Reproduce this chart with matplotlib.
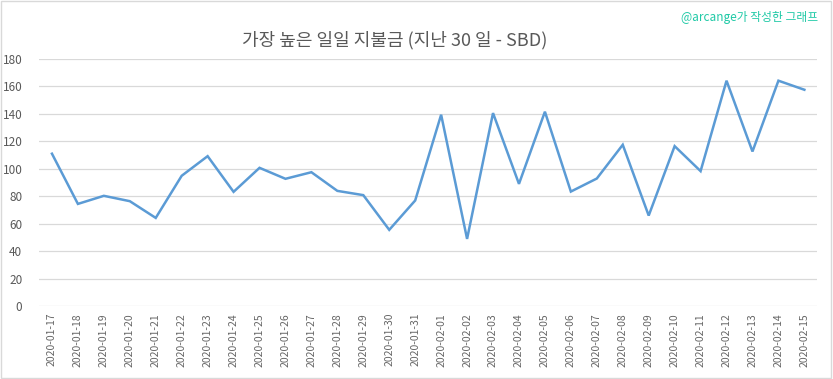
import matplotlib
matplotlib.use("Agg")
import matplotlib.pyplot as plt
from matplotlib.patches import Rectangle

plt.rcParams['font.family'] = ['Noto Sans CJK KR', 'DejaVu Sans']

# data
dates = ["2020-01-17", "2020-01-18", "2020-01-19", "2020-01-20", "2020-01-21",
         "2020-01-22", "2020-01-23", "2020-01-24", "2020-01-25", "2020-01-26",
         "2020-01-27", "2020-01-28", "2020-01-29", "2020-01-30", "2020-01-31",
         "2020-02-01", "2020-02-02", "2020-02-03", "2020-02-04", "2020-02-05",
         "2020-02-06", "2020-02-07", "2020-02-08", "2020-02-09", "2020-02-10",
         "2020-02-11", "2020-02-12", "2020-02-13", "2020-02-14", "2020-02-15"]
payout = [111, 74.4, 80.3, 76.4, 64.2, 94.9, 109.2, 83.2, 100.7, 92.7,
          97.5, 83.9, 80.8, 55.5, 76.9, 139.4, 48.9, 140.6, 89.0, 141.6,
          83.4, 92.9, 117.5, 65.9, 116.5, 98.3, 164.2, 112.6, 164.2, 157.6]
yticks = list(range(0, 181, 20))

title = "가장 높은 일일 지불금 (지난 30 일 - SBD)"
credit = "@arcange가 작성한 그래프"

fig = plt.figure(figsize=(8.33, 3.79), dpi=100)
ax = fig.add_axes([0.0468, 0.1926, 0.9344, 0.6517])

x = list(range(len(dates)))
ax.plot(x, payout, color="#5B9BD5", linewidth=1.8, solid_joinstyle="miter")

ax.set_xlim(-0.5, len(dates) - 0.5)
ax.set_ylim(0, 180)
ax.set_yticks(yticks)
ax.set_xticks(x)
ax.set_xticklabels(dates, rotation=90, fontsize=7.5, color="#666666")
ax.tick_params(axis="y", labelsize=8.5, labelcolor="#595959", length=0, pad=12)
ax.tick_params(axis="x", length=0, pad=5)
ax.grid(axis="y", color="#d9d9d9", linewidth=0.9)
ax.set_axisbelow(True)
for s in ax.spines.values():
    s.set_visible(False)

fig.text(0.474, 0.895, title, ha="center", va="center", fontsize=13,
         color="#595959", fontweight="light")
fig.text(0.982, 0.955, credit, ha="right", va="center", fontsize=8.5,
         color="#1fc9a6")

# chart border
fig.patches.append(Rectangle((0.001, 0.002), 0.997, 0.995, transform=fig.transFigure,
                             fill=False, edgecolor="#d9d9d9", linewidth=1))

fig.savefig("out.png", dpi=100)
